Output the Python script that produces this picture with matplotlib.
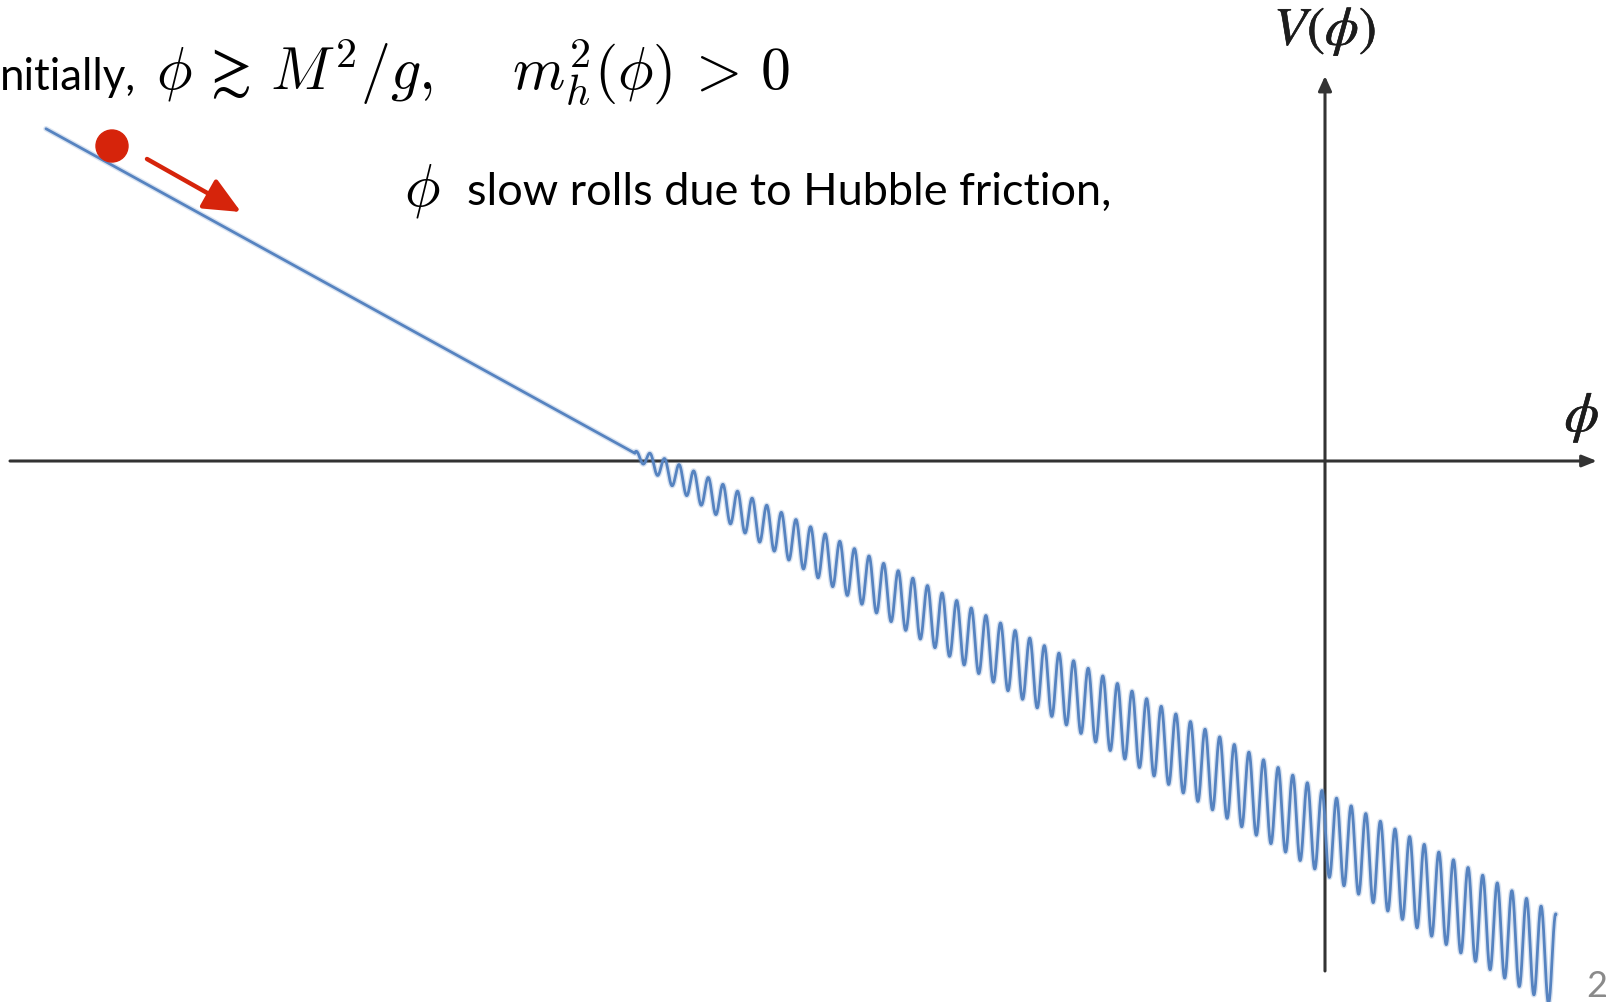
import numpy as np
import matplotlib
matplotlib.use("Agg")
import matplotlib.pyplot as plt
from matplotlib.patches import Circle, FancyArrowPatch
import matplotlib.patheffects as pe

# ---- potential V(phi) = linear slope + Higgs-dependent periodic barriers ----
PHI_START = -12.79
PHI_END = 2.31
PHI_ZERO = -6.76        # where the linear slope crosses V = 0
SLOPE = 0.551
PHI_ONSET = -6.9        # barriers switch on past this field value
AMP_SCALE = 0.184
AMP_POWER = 0.42
PERIOD = 0.1461
PHI_CREST = -0.03       # a barrier crest sits here

# ball and its direction of motion
BALL_PHI, BALL_V, BALL_R = -12.13, 3.15, 0.16
ROLL_FROM = (-11.78, 3.02)
ROLL_TO = (-10.84, 2.49)

# axes extents
H_AXIS = (-13.15, 2.72)
V_AXIS = (-5.10, 3.85)

TEXT_INTRO = "nitially,"
MATH_INTRO = r"$\phi\,\gtrsim\,M^2/g,\quad\; m_h^2(\phi)\,>\,0$"
TEXT_ROLL = "slow rolls due to Hubble friction,"
LABEL_V = r"$V(\phi)$"
LABEL_PHI = r"$\phi$"
PAGE_NO = "2"

CURVE_COLOR = "#5683c0"
RED = "#d6240b"
AXIS_COLOR = "#333333"
SANS = ["Lato", "DejaVu Sans"]


def potential(phi):
    v = -SLOPE * (phi - PHI_ZERO)
    d = np.clip(phi - PHI_ONSET, 0, None)
    amp = AMP_SCALE * d ** AMP_POWER
    return v + amp * np.cos(2 * np.pi * (phi - PHI_CREST) / PERIOD)


fig = plt.figure(figsize=(16.10, 10.03), dpi=100)
ax = fig.add_axes([0, 0, 1, 1])
ax.set_xlim(-13.25, 2.85)
ax.set_ylim(-5.41, 4.62)
ax.set_aspect("equal")
ax.axis("off")

# coordinate axes with arrow heads
ax.add_patch(FancyArrowPatch((H_AXIS[0], 0), (H_AXIS[1], 0),
                             arrowstyle="-|>,head_length=0.55,head_width=0.22",
                             mutation_scale=16, lw=2.2, color=AXIS_COLOR,
                             shrinkA=0, shrinkB=0, zorder=2))
ax.add_patch(FancyArrowPatch((0, V_AXIS[0]), (0, V_AXIS[1]),
                             arrowstyle="-|>,head_length=0.55,head_width=0.25",
                             mutation_scale=16, lw=2.2, color=AXIS_COLOR,
                             shrinkA=0, shrinkB=0, zorder=2))

# the potential
phi = np.linspace(PHI_START, PHI_END, 8000)
V = potential(phi)
ax.plot(phi, V, color=CURVE_COLOR, lw=4.0, alpha=0.22, solid_capstyle="round", zorder=3)
ax.plot(phi, V, color=CURVE_COLOR, lw=2.0, solid_capstyle="round", zorder=4)

# rolling ball and arrow
ax.add_patch(Circle((BALL_PHI, BALL_V), BALL_R, color=RED, zorder=5))
ax.add_patch(FancyArrowPatch(ROLL_FROM, ROLL_TO,
                             arrowstyle="-|>,head_length=0.75,head_width=0.34",
                             mutation_scale=30, lw=3.2, color=RED,
                             shrinkA=0, shrinkB=0, zorder=5))

# annotations
ax.text(-13.25, 3.72, TEXT_INTRO, family=SANS, fontsize=31.5, ha="left", va="baseline")
ax.text(-11.69, 3.72, MATH_INTRO, fontsize=43, ha="left", va="baseline",
        math_fontfamily="cm")
ax.text(-9.21, 2.57, LABEL_PHI, fontsize=43, ha="left", va="baseline",
        math_fontfamily="cm")
ax.text(-8.58, 2.57, TEXT_ROLL, family=SANS, fontsize=32.5, ha="left", va="baseline")

bold = [pe.withStroke(linewidth=0.4, foreground="#1c1c1c")]
ax.text(0.0, 4.16, LABEL_V, fontsize=39, ha="center", va="baseline",
        math_fontfamily="stix", color="#1c1c1c", path_effects=bold)
ax.text(2.57, 0.43, LABEL_PHI, fontsize=40, ha="center", va="center",
        math_fontfamily="stix", color="#1c1c1c", path_effects=bold)
ax.text(2.61, -5.35, PAGE_NO, family=SANS, fontsize=26, color="#8a8a8a",
        ha="left", va="baseline")

fig.savefig("out.png", dpi=100, facecolor="white")
